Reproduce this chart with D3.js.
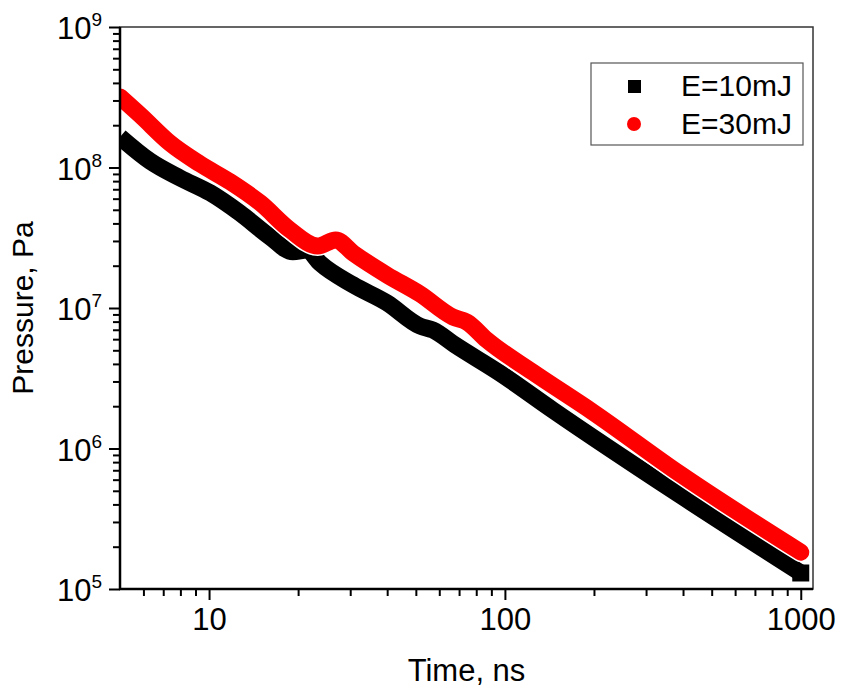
<!DOCTYPE html>
<html>
<head>
<meta charset="utf-8">
<script src="https://cdn.jsdelivr.net/npm/d3@7"></script>
<style>
  body { margin: 0; background: #fff; }
  text { font-family: "Liberation Sans", Arial, Helvetica, sans-serif; fill: #000; }
</style>
</head>
<body>
<div id="chart"></div>
<script>
// series (time in ns, pressure in Pa)
var time10 = [5.0, 6.32, 7.98, 10.1, 12.7, 16.1, 19.2, 21.4, 23.7, 30.7, 39.9, 51.6, 57.1, 67.8, 96.2, 145, 390, 1000];
var pres10 = [1.65e8, 1.11e8, 8.42e7, 6.59e7, 4.75e7, 3.2e7, 2.51e7, 2.59e7, 2.09e7, 1.46e7, 1.09e7, 7.45e6, 6.97e6, 5.46e6, 3.44e6, 1.88e6, 4.67e5, 1.30e5];

var time30 = [5.0, 5.85, 7.38, 9.32, 11.8, 14.9, 18.8, 23.3, 26.8, 30.7, 39.9, 51.6, 66.7, 74.4, 86.9, 124, 198, 390, 1000];
var pres30 = [3.18e8, 2.36e8, 1.49e8, 1.06e8, 7.89e7, 5.59e7, 3.59e7, 2.76e7, 3.05e7, 2.46e7, 1.72e7, 1.26e7, 8.63e6, 7.94e6, 5.92e6, 3.5e6, 1.82e6, 6.6e5, 1.83e5];

var seriesNames = ["E=10mJ", "E=30mJ"];

// tick values
var xMajor = [10, 100, 1000];
var xMinor = [6, 7, 8, 9, 20, 30, 40, 50, 60, 70, 80, 90, 200, 300, 400, 500, 600, 700, 800, 900];
var yExp = [5, 6, 7, 8, 9];
var yMinorMult = [2, 3, 4, 5, 6, 7, 8, 9];

var width = 842;
var height = 695;
var pLeft = 120, pRight = 813, pTop = 27, pBottom = 589;

var svg = d3.select("#chart").append("svg")
    .attr("width", width)
    .attr("height", height);

var x = d3.scaleLog().domain([5, 1100]).range([pLeft, pRight]);
var y = d3.scaleLog().domain([1e5, 1e9]).range([pBottom, pTop]);

var yMajor = yExp.map(function(e) { return Math.pow(10, e); });
var yMinor = [];
for (var i = 0; i < yExp.length - 1; i++) {
  for (var j = 0; j < yMinorMult.length; j++) {
    yMinor.push(yMinorMult[j] * Math.pow(10, yExp[i]));
  }
}

svg.append("clipPath").attr("id", "plotclip")
  .append("rect")
    .attr("x", pLeft).attr("y", pTop)
    .attr("width", pRight - pLeft).attr("height", pBottom - pTop);

// frame
svg.append("rect")
    .attr("x", pLeft).attr("y", pTop)
    .attr("width", pRight - pLeft).attr("height", pBottom - pTop)
    .attr("fill", "none")
    .attr("stroke", "#333")
    .attr("stroke-width", 1.5);

var line = d3.line()
    .x(function(d) { return x(d[0]); })
    .y(function(d) { return y(d[1]); })
    .curve(d3.curveMonotoneX);

var data10 = time10.map(function(t, i) { return [t, pres10[i]]; });
var data30 = time30.map(function(t, i) { return [t, pres30[i]]; });

var plot = svg.append("g").attr("clip-path", "url(#plotclip)");

plot.append("path")
    .attr("d", line(data10))
    .attr("fill", "none")
    .attr("stroke", "#000")
    .attr("stroke-width", 17)
    .attr("stroke-linejoin", "round");

// square marker at the end of the black run
var last10 = data10[data10.length - 1];
plot.append("path")
    .attr("d", d3.symbol().type(d3.symbolSquare).size(17 * 17)())
    .attr("transform", "translate(" + x(last10[0]) + "," + y(last10[1]) + ")")
    .attr("fill", "#000");

// red on top, with a thin white edge like the original markers
plot.append("path")
    .attr("d", line(data30))
    .attr("fill", "none")
    .attr("stroke", "#fff")
    .attr("stroke-width", 20)
    .attr("stroke-linecap", "round")
    .attr("stroke-linejoin", "round");

plot.append("path")
    .attr("d", line(data30))
    .attr("fill", "none")
    .attr("stroke", "#ff0000")
    .attr("stroke-width", 17)
    .attr("stroke-linecap", "round")
    .attr("stroke-linejoin", "round");

// x axis
var xAxis = svg.append("g")
    .attr("transform", "translate(0," + pBottom + ")")
    .call(d3.axisBottom(x).tickValues(xMajor).tickSize(11).tickPadding(8).tickFormat(d3.format("d")));
xAxis.select(".domain").remove();
xAxis.selectAll(".tick line").attr("stroke-width", 2);
xAxis.selectAll("text").attr("font-size", 31).attr("fill", "#000");

var xAxisMinor = svg.append("g")
    .attr("transform", "translate(0," + pBottom + ")")
    .call(d3.axisBottom(x).tickValues(xMinor).tickSize(7).tickFormat(""));
xAxisMinor.select(".domain").remove();
xAxisMinor.selectAll(".tick line").attr("stroke-width", 2);

// y axis
var yAxis = svg.append("g")
    .attr("transform", "translate(" + pLeft + ",0)")
    .call(d3.axisLeft(y).tickValues(yMajor).tickSize(11).tickFormat(""));
yAxis.select(".domain").remove();
yAxis.selectAll(".tick line").attr("stroke-width", 2);

var yAxisMinor = svg.append("g")
    .attr("transform", "translate(" + pLeft + ",0)")
    .call(d3.axisLeft(y).tickValues(yMinor).tickSize(7).tickFormat(""));
yAxisMinor.select(".domain").remove();
yAxisMinor.selectAll(".tick line").attr("stroke-width", 2);

// y tick labels as 10 with superscript exponent
var yLab = svg.append("g").selectAll("text")
    .data(yExp)
    .enter().append("text")
    .attr("x", pLeft - 18)
    .attr("y", function(d) { return y(Math.pow(10, d)) + 12; })
    .attr("text-anchor", "end")
    .attr("font-size", 31);
yLab.append("tspan").text("10");
yLab.append("tspan")
    .attr("font-size", 19)
    .attr("dy", -13)
    .text(function(d) { return d; });

// thick left and bottom axis lines
svg.append("line")
    .attr("x1", pLeft).attr("x2", pLeft)
    .attr("y1", pTop).attr("y2", pBottom + 1)
    .attr("stroke", "#000").attr("stroke-width", 2.5);
svg.append("line")
    .attr("x1", pLeft - 1).attr("x2", pRight)
    .attr("y1", pBottom).attr("y2", pBottom)
    .attr("stroke", "#000").attr("stroke-width", 2.5);

// axis titles
svg.append("text")
    .attr("x", (pLeft + pRight) / 2)
    .attr("y", 681)
    .attr("text-anchor", "middle")
    .attr("font-size", 31)
    .text("Time, ns");

svg.append("text")
    .attr("transform", "translate(33," + ((pTop + pBottom) / 2) + ") rotate(-90)")
    .attr("text-anchor", "middle")
    .attr("font-size", 30)
    .text("Pressure, Pa");

// legend
var legend = svg.append("g");
legend.append("rect")
    .attr("x", 591).attr("y", 63)
    .attr("width", 212).attr("height", 82)
    .attr("fill", "#fff")
    .attr("stroke", "#555")
    .attr("stroke-width", 1.2);

legend.append("rect")
    .attr("x", 628).attr("y", 80)
    .attr("width", 13).attr("height", 13)
    .attr("fill", "#000");
legend.append("circle")
    .attr("cx", 634).attr("cy", 124)
    .attr("r", 7)
    .attr("fill", "#ff0000");

legend.selectAll("text.leg")
    .data(seriesNames)
    .enter().append("text")
    .attr("class", "leg")
    .attr("x", 681)
    .attr("y", function(d, i) { return 96 + i * 38; })
    .attr("font-size", 30)
    .text(function(d) { return d; });
</script>
</body>
</html>
